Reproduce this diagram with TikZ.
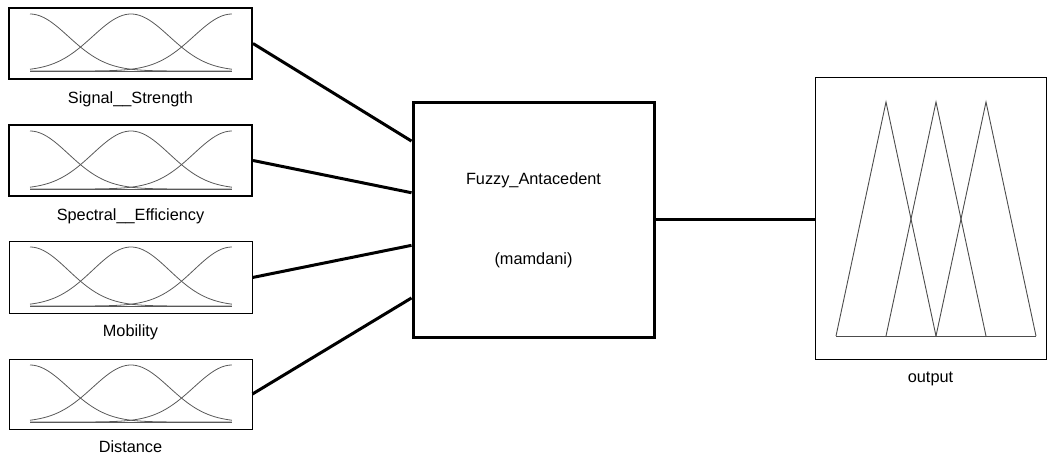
\documentclass[tikz,border=0pt]{standalone}
\usepackage{fontspec}
\setmainfont{Liberation Sans}
\usetikzlibrary{positioning}
\usetikzlibrary{calc}
\tikzset{
  MfBox/.style={draw, rectangle, minimum width=243pt, minimum height=71pt, inner sep=0pt},
  Lbl/.style={font=\fontsize{16.3}{19}\selectfont, inner sep=0pt},
  Mf/.style={draw=black!65, line width=0.8pt},
  Tri/.style={draw=black!70, line width=0.9pt, line join=miter},
  Wire/.style={line width=3pt}
}

\begin{document}
\begin{tikzpicture}[x=1pt, y=-1pt]
    \useasboundingbox (0,0) rectangle (1047,457);

    % input membership boxes
    \node[MfBox, line width=2pt] (sig) at (130.5,43.5) {};
    \node[MfBox, line width=2pt] (spec) at (130.5,160.5) {};
    \node[MfBox, line width=1pt] (mob) at (130.5,277.5) {};
    \node[MfBox, line width=1pt, minimum height=70pt] (dist) at (130.5,394) {};

    \node[Lbl, below = 11pt of sig] (sigl) {Signal\_\_Strength};
    \node[Lbl, below = 11pt of spec] (specl) {Spectral\_\_Efficiency};
    \node[Lbl, below = 11pt of mob] (mobl) {Mobility};
    \node[Lbl, below = 11pt of dist] (distl) {Distance};

    % gaussian curves
    \foreach \t/\b in {14/71, 131/189, 247/306, 365/422} {
      \draw[Mf] (30,\b) -- (232,\b);
      \foreach \c in {0,0.5,1}
        \draw[Mf] plot[domain=0:1, samples=60, smooth]
          ({30+202*\x}, {\b-(\b-\t)*exp(-((\x-\c)^2)/0.072)});
    }

    % rule block
    \node[draw, rectangle, line width=3pt, minimum width=241pt, minimum height=234pt] (fis) at (533.5,220) {};
    \node[Lbl] (fisname) at ($(fis.center)+(0,-40)$) {Fuzzy\_Antacedent};
    \node[Lbl] (fistype) at ($(fis.center)+(0,40)$) {(mamdani)};

    % output box
    \node[draw, rectangle, line width=1pt, minimum width=231pt, minimum height=281pt] (out) at (930.5,218.5) {};
    \node[Lbl, below = 12pt of out] (outl) {output};

    \foreach \p in {886,936,986}
      \draw[Tri] (\p-50,336) -- (\p,102) -- (\p+50,336);
    \draw[Tri] (836,336) -- (1036,336);

    \coordinate (in1) at ($(fis.north west)!0.167!(fis.south west)$);
    \coordinate (in2) at ($(fis.north west)!0.385!(fis.south west)$);
    \coordinate (in3) at ($(fis.north west)!0.607!(fis.south west)$);
    \coordinate (in4) at ($(fis.north west)!0.829!(fis.south west)$);

    \draw[Wire] (sig.east) -- (in1);
    \draw[Wire] (spec.east) -- (in2);
    \draw[Wire] (mob.east) -- (in3);
    \draw[Wire] (dist.east) -- (in4);
    \draw[Wire] (fis.east) -- (fis.east -| out.west);
  \end{tikzpicture}
\end{document}
